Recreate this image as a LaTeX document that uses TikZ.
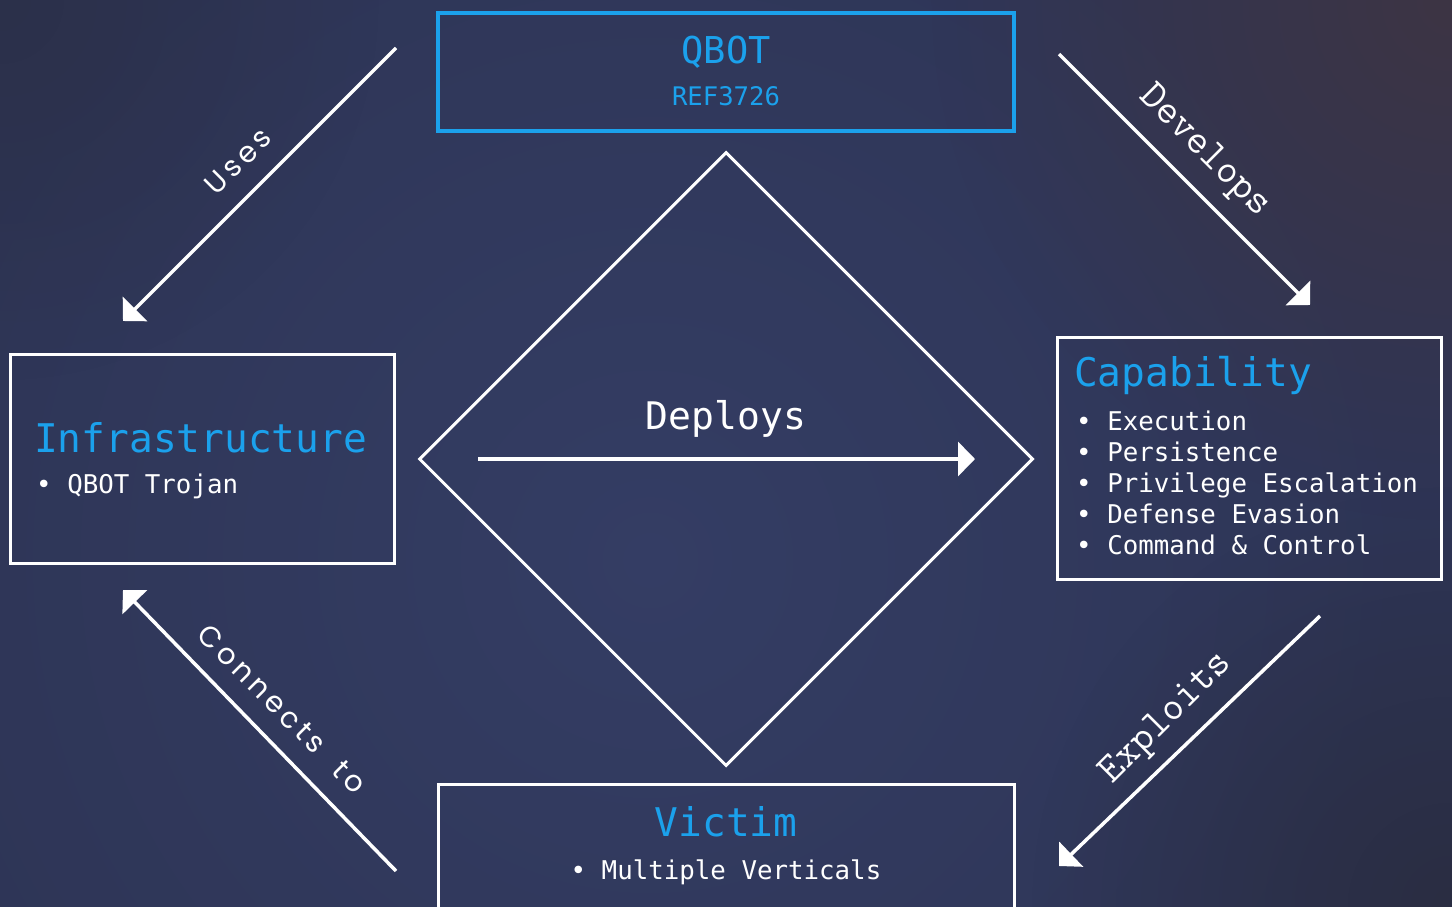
\documentclass[tikz,border=0pt]{standalone}
\usepackage{fontspec}
\setmonofont{DejaVu Sans Mono}
\newfontfamily\labelsans{Poppins}[LetterSpace=14]
\newfontfamily\labelcour{Latin Modern Mono}
\usetikzlibrary{arrows.meta,shapes.geometric,fadings}
\definecolor{accent}{HTML}{1BA1EC}
\definecolor{bgbase}{HTML}{2E3556}
\definecolor{bgmid}{HTML}{343D64}
\definecolor{bgpurple}{HTML}{3D3444}
\definecolor{bgdark}{HTML}{2A2D42}
\tikzfading[name=radfade, inner color=transparent!0, outer color=transparent!100]
\tikzset{
  wbox/.style={draw=white, line width=3pt, inner sep=0pt, minimum width=384pt},
  bbox/.style={draw=accent, line width=4pt, inner sep=0pt, minimum width=576pt, minimum height=118pt},
  ttl/.style={text=accent, inner sep=0pt, font=\ttfamily\fontsize{39.5}{46}\selectfont},
  itm/.style={text=white, inner sep=0pt, font=\ttfamily\fontsize{25.8}{31}\selectfont},
  conn/.style={draw=white, line width=3.5pt, -{Triangle[length=17pt,width=34pt]}},
  lbsans/.style={text=white, inner sep=0pt, font=\labelsans\fontsize{29}{34}\selectfont},
  lbcour/.style={text=white, inner sep=0pt, font=\labelcour\fontsize{41}{46}\selectfont},
}
\begin{document}
\begin{tikzpicture}[x=1pt,y=-1pt]
\useasboundingbox (0,0) rectangle (1452,907);
\begin{scope}
\clip (0,0) rectangle (1452,907);
\fill[bgbase] (0,0) rectangle (1452,907);
\shade[inner color=bgmid, outer color=bgbase] (650,560) circle (760);
\fill[bgpurple, path fading=radfade] (1452,0) circle (520);
\fill[bgdark, path fading=radfade] (1452,907) circle (420);
\fill[bgdark, opacity=0.6, path fading=radfade] (0,0) circle (380);

% boxes
\node[bbox] (qbot) at (726,72) {};
\node[wbox, minimum height=209pt] (infra) at (202.5,459) {};
\node[wbox, minimum height=242pt] (cap) at (1249.5,458.5) {};
\node[wbox, minimum width=576pt, minimum height=140pt] (victim) at (726,854.5) {};
\node[diamond, aspect=1, draw=white, line width=3pt, inner sep=0pt, minimum width=614pt, minimum height=614pt] (dia) at (726,459) {};

% texts
\node[ttl, anchor=base, font=\ttfamily\fontsize{37}{44}\selectfont] (qbottitle) at (726,64) {QBOT};
\node[ttl, anchor=base, font=\ttfamily\fontsize{25.6}{30}\selectfont] (qbotref) at (726,106) {REF3726};

\node[ttl, anchor=base west] (infratitle) at (34,452) {Infrastructure};
\node[itm, anchor=base west] (infra1) at (36,493) {• QBOT Trojan};

\node[ttl, anchor=base west] (captitle) at (1074,386) {Capability};
\node[itm, anchor=base west] (cap1) at (1076,430) {• Execution};
\node[itm, anchor=base west] (cap2) at (1076,461) {• Persistence};
\node[itm, anchor=base west] (cap3) at (1076,492) {• Privilege Escalation};
\node[itm, anchor=base west] (cap4) at (1076,523) {• Defense Evasion};
\node[itm, anchor=base west] (cap5) at (1076,554) {• Command \& Control};

\node[ttl, anchor=base] (victimtitle) at (726,836) {Victim};
\node[itm, anchor=base] (victim1) at (726,879) {• Multiple Verticals};

\node[itm, anchor=base, font=\ttfamily\fontsize{38}{44}\selectfont] (deploysL) at (726,429) {Deploys};

% connector end points
\coordinate (usesA) at (396,48);
\coordinate (usesB) at (123,321);
\coordinate (devA) at (1059,54);
\coordinate (devB) at (1310,305);
\coordinate (expA) at (1320,616);
\coordinate (expB) at (1059,866);
\coordinate (conA) at (396,871);
\coordinate (conB) at (123,590);
\coordinate (depA) at (478,459);
\coordinate (depB) at (975,459);

\draw[conn] (usesA) -- (usesB);
\draw[conn] (devA) -- (devB);
\draw[conn] (expA) -- (expB);
\draw[conn] (conA) -- (conB);
\draw[conn] (depA) -- (depB);

\node[lbsans, rotate=45] (usesL) at (238,161) {Uses};
\node[lbcour, rotate=-45] (devL) at (1204,152) {Develops};
\node[lbcour, rotate=45] (expL) at (1167,719) {Exploits};
\node[lbsans, rotate=-45] (conL) at (282,709) {Connects~ to};
\end{scope}
\end{tikzpicture}
\end{document}
